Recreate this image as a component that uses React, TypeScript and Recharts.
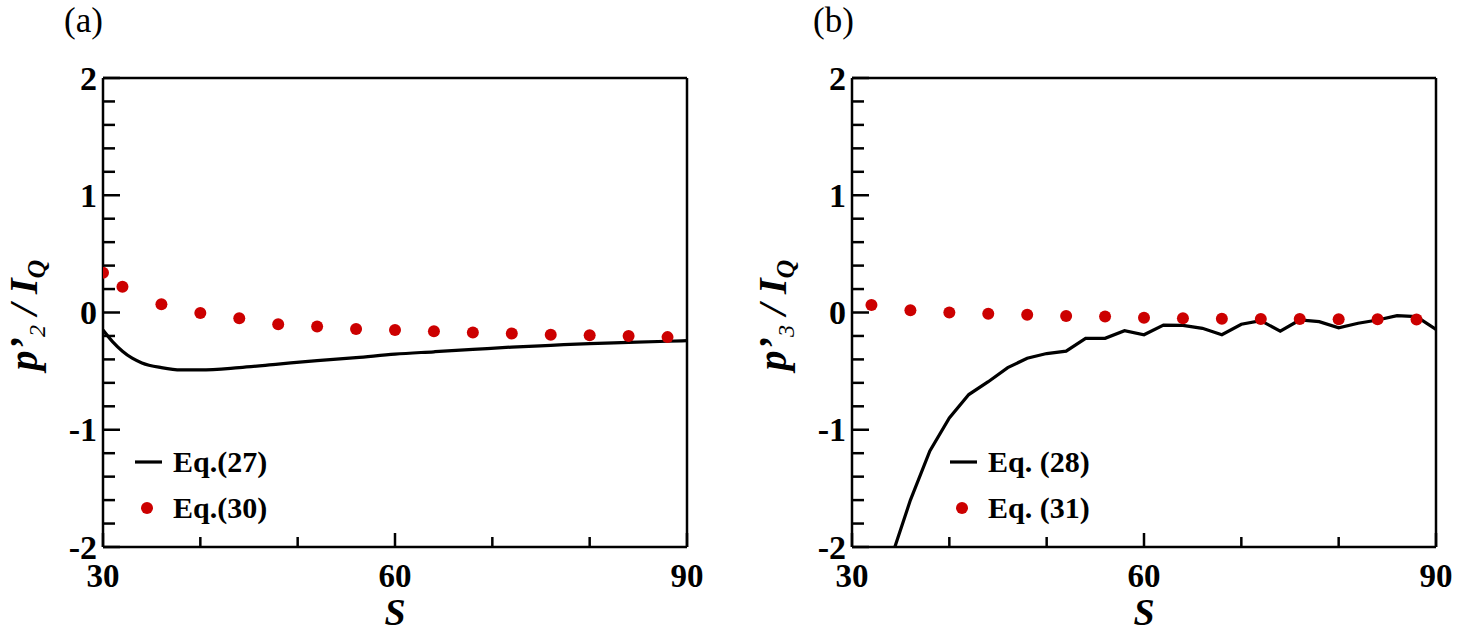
import React from "react"
import {
  ComposedChart,
  Line,
  Scatter,
  XAxis,
  YAxis,
  ReferenceLine,
} from "recharts"

// panel (a)
const lineSA = [30, 31, 32, 33, 34, 36, 38, 40, 44, 48, 52, 56, 60, 64, 68, 72, 76, 80, 84, 88, 90]
const lineVA = [-0.15, -0.25, -0.33, -0.39, -0.43, -0.47, -0.49, -0.49, -0.47, -0.44, -0.41, -0.385, -0.355, -0.335, -0.315, -0.295, -0.28, -0.265, -0.255, -0.245, -0.24]
const dotSA = [30, 32, 36, 40, 44, 48, 52, 56, 60, 64, 68, 72, 76, 80, 84, 88]
const dotVA = [0.34, 0.22, 0.07, -0.005, -0.05, -0.1, -0.12, -0.14, -0.15, -0.16, -0.17, -0.18, -0.19, -0.195, -0.2, -0.21]

// panel (b)
const lineSB = [34, 36, 38, 40, 42, 44, 46, 48, 50, 52, 54, 56, 58, 60, 62, 64, 66, 68, 70, 72, 74, 76, 78, 80, 82, 84, 86, 88, 90]
const lineVB = [-2.1, -1.6, -1.18, -0.9, -0.7, -0.59, -0.47, -0.39, -0.35, -0.33, -0.22, -0.22, -0.155, -0.19, -0.107, -0.11, -0.135, -0.19, -0.1, -0.07, -0.16, -0.064, -0.078, -0.13, -0.092, -0.064, -0.027, -0.035, -0.145]
const dotSB = [32, 36, 40, 44, 48, 52, 56, 60, 64, 68, 72, 76, 80, 84, 88]
const dotVB = [0.064, 0.02, 0.0, -0.01, -0.02, -0.03, -0.035, -0.045, -0.05, -0.053, -0.055, -0.055, -0.058, -0.058, -0.06]

const xTicks = [30, 40, 50, 60, 70, 80, 90]
const xLabeled = [30, 60, 90]
const yTicks = [-2, -1.8, -1.6, -1.4, -1.2, -1, -0.8, -0.6, -0.4, -0.2, 0, 0.2, 0.4, 0.6, 0.8, 1, 1.2, 1.4, 1.6, 1.8, 2]
const yLabeled = [-2, -1, 0, 1, 2]

const SERIF = "'Liberation Serif', 'DejaVu Serif', serif"
const RED = "#cc0000"

const XTick = (props: any) => {
  const { x, y, payload } = props
  const major = xLabeled.includes(payload.value)
  return (
    <g>
      <line x1={x} y1={y} x2={x} y2={y - (major ? 14 : 10)} stroke="#000" strokeWidth={2.5} />
      {major && (
        <text x={x} y={y + 40} textAnchor="middle" fontFamily={SERIF} fontWeight="bold" fontSize={33} fill="#000">
          {payload.value}
        </text>
      )}
    </g>
  )
}

const YTick = (props: any) => {
  const { x, y, payload } = props
  const major = yLabeled.some((v) => Math.abs(v - payload.value) < 1e-6)
  return (
    <g>
      <line x1={x} y1={y} x2={x + (major ? 17 : 12)} y2={y} stroke="#000" strokeWidth={2.5} />
      {major && (
        <text x={x - 6} y={y} dy="0.34em" textAnchor="end" fontFamily={SERIF} fontWeight="bold" fontSize={34} fill="#000">
          {Math.round(payload.value)}
        </text>
      )}
    </g>
  )
}

type PanelProps = {
  tag: string
  sub: string
  lineS: number[]
  lineV: number[]
  dotS: number[]
  dotV: number[]
  smooth: boolean
  eqLine: string
  eqDot: string
  legendX: number
  left: number
}

function Panel({ tag, sub, lineS, lineV, dotS, dotV, smooth, eqLine, eqDot, legendX, left }: PanelProps) {
  const lineData = lineS.map((s, i) => ({ s, v: lineV[i] }))
  const dotData = dotS.map((s, i) => ({ s, v: dotV[i] }))

  return (
    <div style={{ position: "absolute", left, top: 0, width: 728, height: 636 }}>
      <ComposedChart width={728} height={636} margin={{ top: 78, right: 41, bottom: 49, left: 63 }}>
        <XAxis
          type="number"
          dataKey="s"
          domain={[30, 90]}
          ticks={xTicks}
          interval={0}
          height={40}
          tickSize={0}
          tickMargin={0}
          tickLine={false}
          tick={<XTick />}
          axisLine={{ stroke: "#000", strokeWidth: 2.5 }}
          allowDataOverflow
        />
        <YAxis
          type="number"
          dataKey="v"
          domain={[-2, 2]}
          ticks={yTicks}
          interval={0}
          width={40}
          tickSize={0}
          tickMargin={0}
          tickLine={false}
          tick={<YTick />}
          axisLine={{ stroke: "#000", strokeWidth: 2.5 }}
          allowDataOverflow
        />
        <ReferenceLine y={2} stroke="#000" strokeWidth={2.5} />
        <ReferenceLine x={90} stroke="#000" strokeWidth={2.5} />
        <Line
          data={lineData}
          dataKey="v"
          type={smooth ? "monotone" : "linear"}
          stroke="#000"
          strokeWidth={3.2}
          dot={false}
          isAnimationActive={false}
        />
        <Scatter
          data={dotData}
          dataKey="v"
          fill={RED}
          isAnimationActive={false}
          shape={(p: any) => <circle cx={p.cx} cy={p.cy} r={6} fill={RED} />}
        />
      </ComposedChart>
      <svg
        width={728}
        height={636}
        style={{ position: "absolute", left: 0, top: 0, pointerEvents: "none" }}
      >
        <text x={64} y={32} fontFamily={SERIF} fontSize={35} fill="#000">
          {tag}
        </text>
        <text
          transform="translate(37,315) rotate(-90)"
          textAnchor="middle"
          fontFamily={SERIF}
          fontWeight="bold"
          fontStyle="italic"
          fontSize={40}
          fill="#000"
        >
          <tspan>p</tspan>
          <tspan>’</tspan>
          <tspan fontSize={24} fontWeight="normal" dy={8}>{sub}</tspan>
          <tspan dy={-8}> / </tspan>
          <tspan>I</tspan>
          <tspan fontSize={26} dy={8}>Q</tspan>
        </text>
        <text x={395} y={625} textAnchor="middle" fontFamily={SERIF} fontWeight="bold" fontStyle="italic" fontSize={38} fill="#000">
          S
        </text>
        <line x1={legendX} y1={462} x2={legendX + 27} y2={462} stroke="#000" strokeWidth={3.2} />
        <text x={legendX + 38} y={472} fontFamily={SERIF} fontWeight="bold" fontSize={30} fill="#000">
          {eqLine}
        </text>
        <circle cx={legendX + 12} cy={508} r={6} fill={RED} />
        <text x={legendX + 38} y={518} fontFamily={SERIF} fontWeight="bold" fontSize={30} fill="#000">
          {eqDot}
        </text>
      </svg>
    </div>
  )
}

export default function App() {
  return (
    <div style={{ position: "absolute", left: 0, top: 0, width: 1457, height: 636, background: "#fff" }}>
      <Panel
        tag="(a)"
        sub="2"
        lineS={lineSA}
        lineV={lineVA}
        dotS={dotSA}
        dotV={dotVA}
        smooth
        eqLine="Eq.(27)"
        eqDot="Eq.(30)"
        legendX={135}
        left={0}
      />
      <Panel
        tag="(b)"
        sub="3"
        lineS={lineSB}
        lineV={lineVB}
        dotS={dotSB}
        dotV={dotVB}
        smooth={false}
        eqLine="Eq. (28)"
        eqDot="Eq. (31)"
        legendX={201}
        left={749}
      />
    </div>
  )
}
